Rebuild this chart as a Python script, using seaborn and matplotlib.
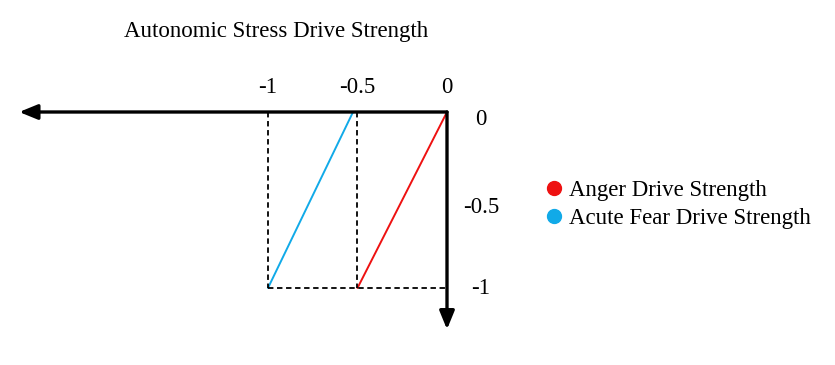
import matplotlib
matplotlib.use("Agg")
import matplotlib.pyplot as plt
from matplotlib.lines import Line2D
import pandas as pd
import seaborn as sns

# values
anger_x = [0.0, -0.5]
anger_y = [0.0, -1.0]
fear_x = [-0.525, -1.0]
fear_y = [0.0, -1.0]
x_ticks = [-1, -0.5, 0]
x_labels = ["-1", "-0.5", "0"]
y_ticks = [0, -0.5, -1]
y_labels = ["0", "-0.5", "-1"]
series_names = ["Anger Drive Strength", "Acute Fear Drive Strength"]
series_colors = ["#ee1111", "#11aae8"]

sns.set_style("white")
plt.rcParams["font.family"] = ["Liberation Serif", "DejaVu Serif"]
plt.rcParams["text.color"] = "black"

df = pd.DataFrame({
    "x": anger_x + fear_x,
    "y": anger_y + fear_y,
    "series": [series_names[0]] * 2 + [series_names[1]] * 2,
})

fig = plt.figure(figsize=(8.35, 3.65), dpi=100)
ax = fig.add_axes([0, 0, 1, 1])
ax.set_xlim(-447 / 179, (835 - 447) / 179)
ax.set_ylim(-253 / 176, 112 / 176)
ax.axis("off")

sns.lineplot(data=df, x="x", y="y", hue="series", palette=series_colors,
             linewidth=1.4, legend=False, ax=ax, estimator=None, sort=False)

# dashed guides
dash = dict(color="black", linewidth=1.3, linestyle=(0, (3, 2)))
ax.plot([-1, -1], [0, -1], **dash)
ax.plot([-0.5, -0.5], [0, -1], **dash)
ax.plot([-1, 0], [-1, -1], **dash)

# axis arrows
arrow = dict(arrowstyle="-|>,head_length=1.1,head_width=0.45", color="black",
             linewidth=2.4, shrinkA=0, shrinkB=0)
ax.annotate("", xy=(-2.39, 0), xytext=(0, 0), arrowprops=arrow)
ax.annotate("", xy=(0, -1.235), xytext=(0, 0), arrowprops=arrow)

fs = 16.5
for t, lab in zip(x_ticks, x_labels):
    ax.text(t, 0.142, lab, ha="center", va="center", fontsize=fs, color="black")
for t, lab, off in zip(y_ticks, y_labels, [-0.045, -0.045, 0.0]):
    ax.text(0.19, t + off, lab, ha="center", va="center", fontsize=fs,
            color="black")

ax.text(-0.955, 0.455, "Autonomic Stress Drive Strength", ha="center",
        va="center", fontsize=fs, color="black")

handles = [Line2D([], [], marker="o", linestyle="", color=c, markersize=10)
           for c in series_colors]
ax.legend(handles, series_names, loc="center left", bbox_to_anchor=(0.622, 0.44),
          frameon=False, fontsize=fs, handletextpad=0.05, labelspacing=0.3,
          handlelength=1.2, labelcolor="black")

fig.savefig("out.png", dpi=100)
